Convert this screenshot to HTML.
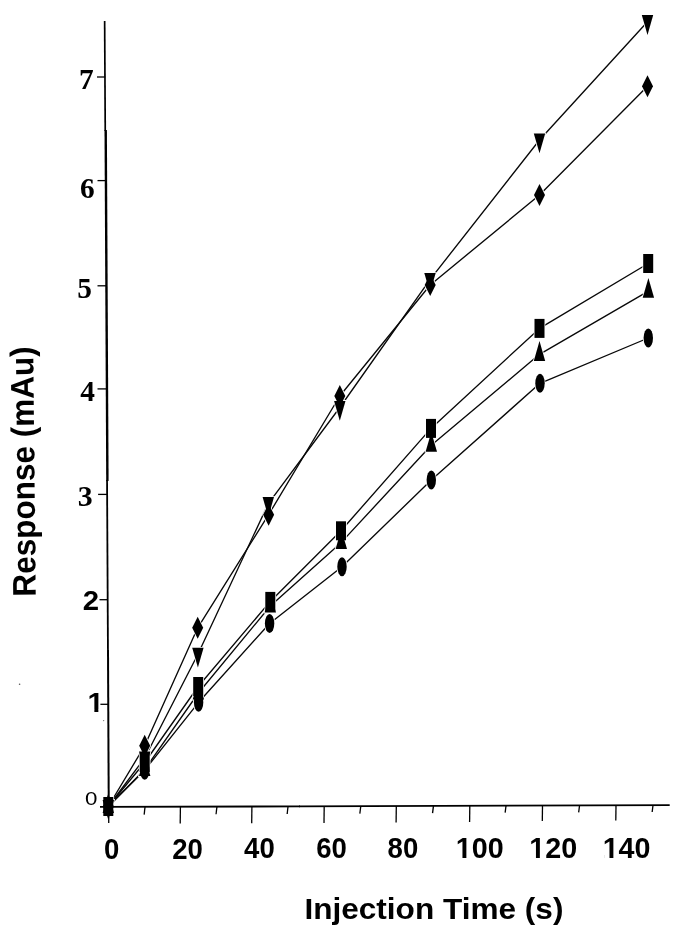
<!DOCTYPE html>
<html><head><meta charset="utf-8"><title>Response vs Injection Time</title>
<style>
html,body{margin:0;padding:0;background:#fff;}
body{width:680px;height:931px;overflow:hidden;}
svg{display:block;}
.dl{fill:none;stroke:#080808;stroke-width:1.35;stroke-linejoin:round;}
.mk{fill:#000;stroke:none;}
.hl{fill:#fff;stroke:#fff;stroke-width:1.6;stroke-linejoin:miter;}
.ax{stroke:#000;stroke-width:2.4;}
.tk{stroke:#000;stroke-width:1.3;}
text{fill:#000;}
.xl{font-family:"Liberation Sans",Arial,sans-serif;font-weight:bold;font-size:28.7px;}
.ya{font-family:"Liberation Sans",Arial,sans-serif;font-weight:bold;font-size:28.5px;}
.ys{font-family:"Liberation Serif","Times New Roman",serif;font-weight:bold;font-size:28.5px;}
.y3{font-family:"Liberation Serif","Times New Roman",serif;font-weight:bold;font-size:29px;}
.y0{font-family:"Liberation Sans",Arial,sans-serif;font-size:18.6px;}
.xt{font-family:"Liberation Sans",Arial,sans-serif;font-weight:bold;font-size:29.8px;}
.yt{font-family:"Liberation Sans",Arial,sans-serif;font-weight:bold;font-size:31.5px;}
</style></head>
<body>
<svg width="680" height="931" viewBox="0 0 680 931">
<rect x="0" y="0" width="680" height="931" fill="#ffffff"/>
<g id="series">
<polyline class="dl" points="108.3,806.5 144.7,758 197.9,654.3 268.3,503.7 339.8,407.5 430,279.6 539.5,140 647.5,21.7"/>
<polyline class="dl" points="108.3,806.5 144.7,745.8 197.7,627.8 268.6,514.7 339.8,396 430.2,285 539.5,195 647.5,86.2"/>
<polyline class="dl" points="108.3,806.5 144.7,762.5 198.2,686.5 270.3,601.4 341,530.8 431,428.4 539.5,328.4 648.2,263.5"/>
<polyline class="dl" points="108.3,806.5 144.7,769.5 198.4,693 270.3,606 341.3,542.4 431.3,445.2 539.5,354.3 648.4,291.1"/>
<polyline class="dl" points="108.3,806.5 144.7,770.2 198.6,702.3 269.6,623.5 342,566.8 431.3,480 540,383.3 648.3,338"/>
<polygon class="hl" points="102.6,799.9 114,799.9 108.3,819.7"/>
<polygon class="hl" points="139,751.4 150.4,751.4 144.7,771.2"/>
<polygon class="hl" points="192.2,647.7 203.6,647.7 197.9,667.5"/>
<polygon class="hl" points="262.6,497.1 274,497.1 268.3,516.9"/>
<polygon class="hl" points="334.1,400.9 345.5,400.9 339.8,420.7"/>
<polygon class="hl" points="424.3,273 435.7,273 430,292.8"/>
<polygon class="hl" points="533.8,133.4 545.2,133.4 539.5,153.2"/>
<polygon class="hl" points="641.8,15.1 653.2,15.1 647.5,34.9"/>
<polygon class="hl" points="102.6,813.1 114,813.1 108.3,793.3"/>
<polygon class="hl" points="139,776.1 150.4,776.1 144.7,756.3"/>
<polygon class="hl" points="192.7,699.6 204.1,699.6 198.4,679.8"/>
<polygon class="hl" points="264.6,612.6 276,612.6 270.3,592.8"/>
<polygon class="hl" points="335.6,549 347,549 341.3,529.2"/>
<polygon class="hl" points="425.6,451.8 437,451.8 431.3,432"/>
<polygon class="hl" points="533.8,360.9 545.2,360.9 539.5,341.1"/>
<polygon class="hl" points="642.7,297.7 654.1,297.7 648.4,277.9"/>
<polygon class="hl" points="108.3,795.5 113.8,806.5 108.3,817.5 102.8,806.5"/>
<polygon class="hl" points="144.7,734.8 150.2,745.8 144.7,756.8 139.2,745.8"/>
<polygon class="hl" points="197.7,616.8 203.2,627.8 197.7,638.8 192.2,627.8"/>
<polygon class="hl" points="268.6,503.7 274.1,514.7 268.6,525.7 263.1,514.7"/>
<polygon class="hl" points="339.8,385 345.3,396 339.8,407 334.3,396"/>
<polygon class="hl" points="430.2,274 435.7,285 430.2,296 424.7,285"/>
<polygon class="hl" points="539.5,184 545,195 539.5,206 534,195"/>
<polygon class="hl" points="647.5,75.2 653,86.2 647.5,97.2 642,86.2"/>
<rect class="hl" x="103.3" y="797" width="10" height="19"/>
<rect class="hl" x="139.7" y="753" width="10" height="19"/>
<rect class="hl" x="193.2" y="677" width="10" height="19"/>
<rect class="hl" x="265.3" y="591.9" width="10" height="19"/>
<rect class="hl" x="336" y="521.3" width="10" height="19"/>
<rect class="hl" x="426" y="418.9" width="10" height="19"/>
<rect class="hl" x="534.5" y="318.9" width="10" height="19"/>
<rect class="hl" x="643.2" y="254" width="10" height="19"/>
<ellipse class="hl" cx="108.3" cy="806.5" rx="4.7" ry="9.5"/>
<ellipse class="hl" cx="144.7" cy="770.2" rx="4.7" ry="9.5"/>
<ellipse class="hl" cx="198.6" cy="702.3" rx="4.7" ry="9.5"/>
<ellipse class="hl" cx="269.6" cy="623.5" rx="4.7" ry="9.5"/>
<ellipse class="hl" cx="342" cy="566.8" rx="4.7" ry="9.5"/>
<ellipse class="hl" cx="431.3" cy="480" rx="4.7" ry="9.5"/>
<ellipse class="hl" cx="540" cy="383.3" rx="4.7" ry="9.5"/>
<ellipse class="hl" cx="648.3" cy="338" rx="4.7" ry="9.5"/>
</g>
<g id="axes">
<line class="ax" style="stroke-width:1.7" x1="104.65" y1="21" x2="105.25" y2="131"/>
<line class="ax" style="stroke-width:2.4" x1="105.7" y1="130" x2="107.4" y2="481"/>
<line class="ax" style="stroke-width:1.8" x1="107.05" y1="480" x2="107.95" y2="651"/>
<line class="ax" style="stroke-width:2.0" x1="108.0" y1="650" x2="108.75" y2="808"/>
<line class="ax" style="stroke-width:1.9" x1="100" y1="806.9" x2="300" y2="806.4"/>
<line class="ax" style="stroke-width:1.6" x1="299" y1="806.4" x2="669.7" y2="805.1"/>
<line class="tk" x1="97" y1="77" x2="105.2" y2="77"/>
<line class="tk" x1="97.5" y1="180.6" x2="105.7" y2="180.6"/>
<line class="tk" x1="97.5" y1="285.8" x2="106.2" y2="285.8"/>
<line class="tk" x1="97.5" y1="388.9" x2="106.7" y2="388.9"/>
<line class="tk" x1="98.1" y1="494.4" x2="107.2" y2="494.4"/>
<line class="tk" x1="99.5" y1="599.7" x2="107.8" y2="599.7"/>
<line class="tk" x1="100.4" y1="704.3" x2="108.3" y2="704.3"/>
<line class="tk" x1="108.9" y1="806.87" x2="108.7" y2="823"/>
<line class="tk" x1="180.4" y1="806.65" x2="180.2" y2="823.5"/>
<line class="tk" x1="251.9" y1="806.42" x2="251.7" y2="823.3"/>
<line class="tk" x1="324.2" y1="806.19" x2="324" y2="823"/>
<line class="tk" x1="396.3" y1="805.96" x2="396.1" y2="822.5"/>
<line class="tk" x1="469.8" y1="805.73" x2="469.6" y2="822"/>
<line class="tk" x1="542.5" y1="805.5" x2="542.3" y2="821"/>
<line class="tk" x1="616" y1="805.27" x2="615.8" y2="820.5"/>
<line class="tk" x1="145.05" y1="806.76" x2="144.15" y2="814.6"/>
<line class="tk" x1="216.95" y1="806.53" x2="216.05" y2="814.3"/>
<line class="tk" x1="288.05" y1="806.31" x2="287.15" y2="814"/>
<line class="tk" x1="360.75" y1="806.08" x2="359.85" y2="813.7"/>
<line class="tk" x1="433.45" y1="805.85" x2="432.55" y2="813.2"/>
<line class="tk" x1="506.05" y1="805.62" x2="505.15" y2="812.6"/>
<line class="tk" x1="579.55" y1="805.39" x2="578.65" y2="812.3"/>
<line class="tk" x1="653.05" y1="805.15" x2="652.15" y2="812"/>
<circle cx="19.6" cy="684.3" r="0.8" fill="#555"/>
<circle cx="103.6" cy="720.6" r="0.7" fill="#777"/>
</g>
<g id="markers">
<polygon class="mk" points="102.6,799.9 114,799.9 108.3,819.7"/>
<polygon class="mk" points="139,751.4 150.4,751.4 144.7,771.2"/>
<polygon class="mk" points="192.2,647.7 203.6,647.7 197.9,667.5"/>
<polygon class="mk" points="262.6,497.1 274,497.1 268.3,516.9"/>
<polygon class="mk" points="334.1,400.9 345.5,400.9 339.8,420.7"/>
<polygon class="mk" points="424.3,273 435.7,273 430,292.8"/>
<polygon class="mk" points="533.8,133.4 545.2,133.4 539.5,153.2"/>
<polygon class="mk" points="641.8,15.1 653.2,15.1 647.5,34.9"/>
<polygon class="mk" points="102.6,813.1 114,813.1 108.3,793.3"/>
<polygon class="mk" points="139,776.1 150.4,776.1 144.7,756.3"/>
<polygon class="mk" points="192.7,699.6 204.1,699.6 198.4,679.8"/>
<polygon class="mk" points="264.6,612.6 276,612.6 270.3,592.8"/>
<polygon class="mk" points="335.6,549 347,549 341.3,529.2"/>
<polygon class="mk" points="425.6,451.8 437,451.8 431.3,432"/>
<polygon class="mk" points="533.8,360.9 545.2,360.9 539.5,341.1"/>
<polygon class="mk" points="642.7,297.7 654.1,297.7 648.4,277.9"/>
<polygon class="mk" points="108.3,795.5 113.8,806.5 108.3,817.5 102.8,806.5"/>
<polygon class="mk" points="144.7,734.8 150.2,745.8 144.7,756.8 139.2,745.8"/>
<polygon class="mk" points="197.7,616.8 203.2,627.8 197.7,638.8 192.2,627.8"/>
<polygon class="mk" points="268.6,503.7 274.1,514.7 268.6,525.7 263.1,514.7"/>
<polygon class="mk" points="339.8,385 345.3,396 339.8,407 334.3,396"/>
<polygon class="mk" points="430.2,274 435.7,285 430.2,296 424.7,285"/>
<polygon class="mk" points="539.5,184 545,195 539.5,206 534,195"/>
<polygon class="mk" points="647.5,75.2 653,86.2 647.5,97.2 642,86.2"/>
<rect class="mk" x="103.3" y="797" width="10" height="19"/>
<rect class="mk" x="139.7" y="753" width="10" height="19"/>
<rect class="mk" x="193.2" y="677" width="10" height="19"/>
<rect class="mk" x="265.3" y="591.9" width="10" height="19"/>
<rect class="mk" x="336" y="521.3" width="10" height="19"/>
<rect class="mk" x="426" y="418.9" width="10" height="19"/>
<rect class="mk" x="534.5" y="318.9" width="10" height="19"/>
<rect class="mk" x="643.2" y="254" width="10" height="19"/>
<ellipse class="mk" cx="108.3" cy="806.5" rx="4.7" ry="9.5"/>
<ellipse class="mk" cx="144.7" cy="770.2" rx="4.7" ry="9.5"/>
<ellipse class="mk" cx="198.6" cy="702.3" rx="4.7" ry="9.5"/>
<ellipse class="mk" cx="269.6" cy="623.5" rx="4.7" ry="9.5"/>
<ellipse class="mk" cx="342" cy="566.8" rx="4.7" ry="9.5"/>
<ellipse class="mk" cx="431.3" cy="480" rx="4.7" ry="9.5"/>
<ellipse class="mk" cx="540" cy="383.3" rx="4.7" ry="9.5"/>
<ellipse class="mk" cx="648.3" cy="338" rx="4.7" ry="9.5"/>
</g>
<g id="labels">
<text class="xl" x="111.75" y="858.6" text-anchor="middle" transform="translate(111.75 858.6) scale(0.96 1) translate(-111.75 -858.6)">0</text>
<text class="xl" x="187.5" y="858.6" text-anchor="middle" transform="translate(187.5 858.6) scale(0.96 1) translate(-187.5 -858.6)">20</text>
<text class="xl" x="259.4" y="858.5" text-anchor="middle" transform="translate(259.4 858.5) scale(0.96 1) translate(-259.4 -858.5)">40</text>
<text class="xl" x="331.5" y="858.4" text-anchor="middle" transform="translate(331.5 858.4) scale(0.96 1) translate(-331.5 -858.4)">60</text>
<text class="xl" x="402.9" y="858.2" text-anchor="middle" transform="translate(402.9 858.2) scale(0.96 1) translate(-402.9 -858.2)">80</text>
<text class="xl" x="479.75" y="858" text-anchor="middle">100</text>
<text class="xl" x="553.3" y="857.8" text-anchor="middle">120</text>
<text class="xl" x="626.6" y="857.8" text-anchor="middle">140</text>
<text class="ys" x="86.45" y="89.4" text-anchor="middle" transform="translate(86.45 89.4) scale(1.03 1) translate(-86.45 -89.4)">7</text>
<text class="ys" x="87.25" y="197.7" text-anchor="middle" transform="translate(87.25 197.7) scale(1.03 1) translate(-87.25 -197.7)">6</text>
<text class="ys" x="84.65" y="298.5" text-anchor="middle" transform="translate(84.65 298.5) scale(1.03 1) translate(-84.65 -298.5)">5</text>
<text class="ys" x="87.5" y="401.2" text-anchor="middle" transform="translate(87.5 401.2) scale(1.03 1) translate(-87.5 -401.2)">4</text>
<text class="y3" x="85.35" y="505.8" text-anchor="middle" transform="translate(85.35 505.8) scale(1.03 1) translate(-85.35 -505.8)">3</text>
<text class="ya" x="90.9" y="610" text-anchor="middle" transform="translate(90.9 610) scale(1.03 1) translate(-90.9 -610)">2</text>
<text class="ya" x="95.55" y="711.9" text-anchor="middle" transform="translate(95.55 711.9) scale(1.03 1) translate(-95.55 -711.9)">1</text>
<text class="y0" x="91.2" y="805.3" text-anchor="middle" transform="translate(91.2 805.3) scale(1.2 1) translate(-91.2 -805.3)">0</text>
<text class="xt" x="433.9" y="919.2" text-anchor="middle" transform="translate(433.9 919.2) scale(1.06 1) translate(-433.9 -919.2)">Injection Time (s)</text>
<text class="yt" x="0" y="0" text-anchor="middle" transform="translate(34.5 471.3) rotate(-90.6) scale(1 1.04)">Response (mAu)</text>
<rect fill="#fff" x="89" y="709" width="5.35" height="3.3"/>
<rect fill="#fff" x="98.35" y="709" width="5.15" height="3.3"/>
<rect fill="#fff" x="457" y="855" width="5.46" height="3.3"/>
<rect fill="#fff" x="466.37" y="855" width="5.03" height="3.3"/>
<rect fill="#fff" x="530.7" y="855" width="5.25" height="3.3"/>
<rect fill="#fff" x="539.85" y="855" width="5.35" height="3.3"/>
<rect fill="#fff" x="604.2" y="855" width="5.26" height="3.3"/>
<rect fill="#fff" x="613.37" y="855" width="4.93" height="3.3"/>
</g>
</svg>
</body></html>
